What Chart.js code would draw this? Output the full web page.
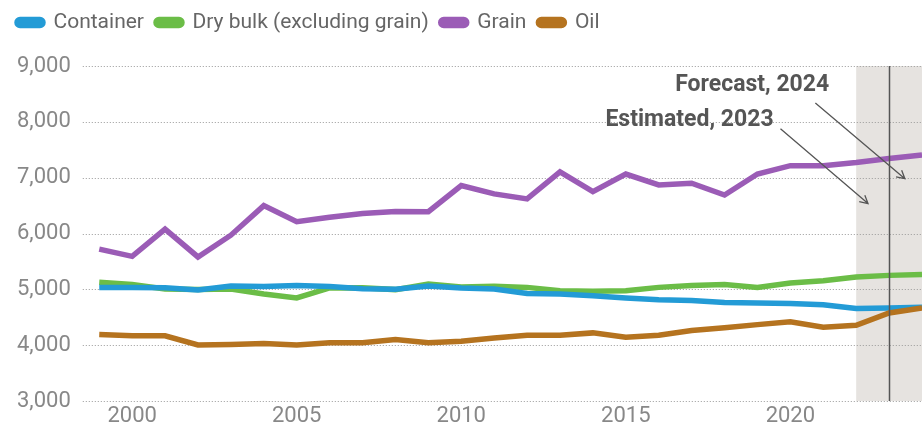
<!DOCTYPE html>
<html>
<head>
<meta charset="utf-8">
<script src="https://cdn.jsdelivr.net/npm/chart.js@4"></script>
<style>
  html, body { margin: 0; padding: 0; background: #fff; }
  #wrap { width: 922px; height: 431px; }
</style>
</head>
<body>
<div id="wrap"><canvas id="tonnageChart"></canvas></div>
<script>
const years = [1999, 2000, 2001, 2002, 2003, 2004, 2005, 2006, 2007, 2008, 2009, 2010, 2011,
  2012, 2013, 2014, 2015, 2016, 2017, 2018, 2019, 2020, 2021, 2022, 2023, 2024];

const container = [5035, 5035, 5030, 4990, 5060, 5050, 5070, 5050, 5010, 5000, 5060, 5025, 5005,
  4925, 4915, 4885, 4845, 4815, 4800, 4765, 4755, 4745, 4725, 4655, 4665, 4680];
const dryBulk = [5125, 5085, 5005, 4995, 5005, 4915, 4845, 5025, 5030, 4995, 5095, 5040, 5055,
  5035, 4975, 4965, 4975, 5035, 5070, 5085, 5035, 5115, 5155, 5220, 5250, 5265];
const grain = [5720, 5590, 6080, 5580, 5970, 6500, 6210, 6290, 6360, 6395, 6390, 6860, 6710,
  6620, 7105, 6750, 7065, 6870, 6900, 6690, 7065, 7215, 7215, 7270, 7345, 7405];
const oil = [4190, 4167, 4167, 4005, 4012, 4030, 4005, 4042, 4042, 4100, 4042, 4071, 4130,
  4178, 4178, 4220, 4143, 4178, 4262, 4310, 4368, 4417, 4321, 4357, 4577, 4667];

const xTicks = [2000, 2005, 2010, 2015, 2020];
const estimatedFrom = 2022;
const forecastYear = 2023;

// callouts: text anchor (right edge) and arrow start/end, in axis units
const callouts = [
  { text: 'Forecast, 2024', tx: 2021.18, ty: 8661, from: [2020.76, 8339], to: [2023.48, 6982] },
  { text: 'Estimated, 2023', tx: 2019.49, ty: 8036, from: [2019.70, 7875], to: [2022.36, 6536] }
];

const toPoints = vals => vals.map((v, i) => ({ x: years[i], y: v }));

// extra room between the legend and the plot
const legendGap = {
  id: 'legendGap',
  beforeInit(chart) {
    const fit = chart.legend.fit;
    chart.legend.fit = function () {
      fit.bind(chart.legend)();
      this.height += 23;
    };
  }
};

const bandPlugin = {
  id: 'band',
  beforeDraw(chart) {
    const { ctx, chartArea, scales } = chart;
    const x0 = scales.x.getPixelForValue(estimatedFrom);
    ctx.save();
    ctx.fillStyle = '#e6e3e0';
    ctx.fillRect(x0, chartArea.top, chartArea.right - x0, chartArea.bottom - chartArea.top);
    // dotted horizontal grid
    ctx.strokeStyle = '#999';
    ctx.lineWidth = 1;
    ctx.setLineDash([1, 2]);
    scales.y.ticks.forEach(t => {
      const y = Math.round(scales.y.getPixelForValue(t.value)) + 0.5;
      ctx.beginPath();
      ctx.moveTo(chartArea.left, y);
      ctx.lineTo(chartArea.right, y);
      ctx.stroke();
    });
    ctx.restore();
  },
  afterDatasetsDraw(chart) {
    const { ctx, chartArea, scales } = chart;
    const xl = Math.round(scales.x.getPixelForValue(forecastYear)) + 0.5;
    ctx.save();
    ctx.strokeStyle = '#555';
    ctx.lineWidth = 1.5;
    ctx.beginPath();
    ctx.moveTo(xl, chartArea.top);
    ctx.lineTo(xl, chartArea.bottom);
    ctx.stroke();

    ctx.font = 'bold 23px Roboto';
    ctx.fillStyle = '#555';
    ctx.textAlign = 'right';
    ctx.textBaseline = 'middle';
    callouts.forEach(c => {
      ctx.fillText(c.text, scales.x.getPixelForValue(c.tx), scales.y.getPixelForValue(c.ty));
      const x1 = scales.x.getPixelForValue(c.from[0]), y1 = scales.y.getPixelForValue(c.from[1]);
      const x2 = scales.x.getPixelForValue(c.to[0]), y2 = scales.y.getPixelForValue(c.to[1]);
      const a = Math.atan2(y2 - y1, x2 - x1);
      ctx.strokeStyle = '#555';
      ctx.lineWidth = 1.3;
      ctx.beginPath();
      ctx.moveTo(x1, y1);
      ctx.lineTo(x2, y2);
      ctx.moveTo(x2 - 9 * Math.cos(a - 0.5), y2 - 9 * Math.sin(a - 0.5));
      ctx.lineTo(x2, y2);
      ctx.lineTo(x2 - 9 * Math.cos(a + 0.5), y2 - 9 * Math.sin(a + 0.5));
      ctx.stroke();
    });
    ctx.restore();
  }
};

const line = (label, vals, color, order) => ({
  label: label,
  data: toPoints(vals),
  borderColor: color,
  backgroundColor: color,
  borderWidth: 5.5,
  pointRadius: 0,
  tension: 0,
  order: order
});

new Chart(document.getElementById('tonnageChart'), {
  type: 'line',
  data: {
    datasets: [
      line('Container', container, '#239bd6', 1),
      line('Dry bulk (excluding grain)', dryBulk, '#6bbd47', 1),
      line('Grain', grain, '#9b5cb6', 1),
      line('Oil', oil, '#b5731f', 0)
    ]
  },
  options: {
    responsive: true,
    maintainAspectRatio: false,
    animation: false,
    layout: { padding: { top: 0, right: 0, left: 5, bottom: 0 } },
    plugins: {
      tooltip: { enabled: false },
      legend: {
        align: 'start',
        labels: {
          sort: (a, b) => a.datasetIndex - b.datasetIndex,
          boxWidth: 26,
          boxHeight: 6,
          useBorderRadius: true,
          borderRadius: 3,
          padding: 12,
          color: '#666',
          font: { family: 'Roboto', size: 21 }
        }
      }
    },
    scales: {
      x: {
        type: 'linear',
        min: 1998.5,
        max: 2024,
        afterBuildTicks: scale => { scale.ticks = xTicks.map(v => ({ value: v })); },
        grid: { display: false, drawTicks: false },
        border: { display: false },
        ticks: {
          color: '#888',
          font: { family: 'Roboto', size: 22, lineHeight: 1 },
          padding: 4,
          maxRotation: 0,
          callback: v => String(v)
        }
      },
      y: {
        min: 3000,
        max: 9000,
        ticks: {
          stepSize: 1000,
          color: '#888',
          font: { family: 'Roboto', size: 22 },
          padding: 12
        },
        grid: { display: false, drawTicks: false },
        border: { display: false }
      }
    }
  },
  plugins: [bandPlugin, legendGap]
});
</script>
</body>
</html>
